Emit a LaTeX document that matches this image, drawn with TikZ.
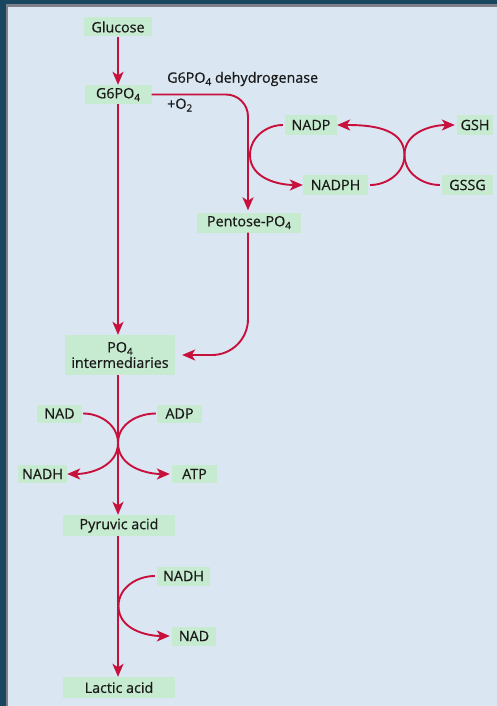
\documentclass[tikz,border=0pt]{standalone}
\usepackage{fontspec}
\setmainfont{Open Sans}[FakeBold=0.6]
\usetikzlibrary{arrows.meta}
\definecolor{frame}{HTML}{19465F}
\definecolor{frameline}{HTML}{7D8088}
\definecolor{panel}{HTML}{DAE6F2}
\definecolor{boxgreen}{HTML}{C6EBD0}
\definecolor{arrowred}{HTML}{C8103C}
\definecolor{txt}{HTML}{1A1A1A}
\newcommand{\subsc}[1]{\raisebox{-0.35ex}{\fontsize{10}{10}\selectfont #1}}
\tikzset{
  x=1pt, y=1pt,
  met/.style={fill=boxgreen, text=txt, font=\fontsize{14.3}{15.5}\selectfont, inner sep=0pt, minimum height=19pt, align=center},
  lbl/.style={text=txt, font=\fontsize{14.3}{15.5}\selectfont, inner sep=0pt, anchor=west},
  flow/.style={draw=arrowred, line width=1.9pt, -{Stealth[length=13pt,width=11pt,inset=3.5pt]}},
}
\begin{document}
\begin{tikzpicture}
\useasboundingbox (0,0) rectangle (497,-706);
\fill[frame] (0,0) rectangle (497,-706);
\fill[frameline] (6,-4.5) rectangle (497,-706);
\fill[panel] (8,-7) rectangle (497,-706);

% nodes
\node[met, minimum width=68pt] (glu) at (118,-27) {Glucose};
\node[met, minimum width=67pt] (g6p) at (118,-94.5) {G6PO\subsc{4}};
\node[lbl] (dh) at (167,-79) {G6PO\subsc{4} dehydrogenase};
\node[lbl] (o2) at (167,-105) {+O\subsc{2}};
\node[met, minimum width=52pt, minimum height=20pt] (nadp) at (311,-125) {NADP};
\node[met, minimum width=65pt, minimum height=20pt] (nadph) at (335.5,-185) {NADPH};
\node[met, minimum width=36pt, minimum height=20pt] (gsh) at (475,-125) {GSH};
\node[met, minimum width=51pt, minimum height=20pt] (gssg) at (467.5,-185) {GSSG};
\node[met, minimum width=104pt, minimum height=20pt] (pent) at (249,-222.5) {Pentose-PO\subsc{4}};
\node[met, minimum width=110pt, minimum height=40pt] (po4) at (120,-355) {PO\subsc{4}\\intermediaries};
\node[met, minimum width=45pt, minimum height=18pt] (nad1) at (59.5,-413.5) {NAD};
\node[met, minimum width=45pt, minimum height=18pt] (adp) at (179.5,-413.5) {ADP};
\node[met, minimum width=49pt, minimum height=18pt] (nadh1) at (42.5,-474) {NADH};
\node[met, minimum width=45pt, minimum height=18pt] (atp) at (194.5,-474) {ATP};
\node[met, minimum width=112pt, minimum height=21pt] (pyr) at (119,-525.5) {Pyruvic acid};
\node[met, minimum width=53pt, minimum height=19pt] (nadh2) at (183.5,-576) {NADH};
\node[met, minimum width=44pt, minimum height=19pt] (nad2) at (194,-636) {NAD};
\node[met, minimum width=112pt, minimum height=21pt] (lac) at (119,-687.5) {Lactic acid};

\coordinate (xg) at (118,0);
\coordinate (xp) at (248,0);
\coordinate (c1) at (250,-155);
\coordinate (c2) at (404.5,-155);
\coordinate (c3) at (118,-443);
\coordinate (c4) at (118.5,-606);

% main trunk
\draw[flow] (glu.south -| xg) -- (g6p.north -| xg);
\draw[flow] (g6p.south -| xg) -- (po4.north -| xg);
\draw[flow] (po4.south -| xg) -- (pyr.north -| xg);
\draw[flow] (pyr.south -| xg) -- (lac.north -| xg);

% pentose branch
\draw[flow, rounded corners=22pt, shorten >=2pt] (g6p.east) -| (pent.north -| xp);
\draw[flow, rounded corners=36pt, shorten >=7pt] (pent.south -| xp) |- (po4.east);

% NADP/NADPH loop
\draw[flow, shorten <=2pt] (nadp.west) to[out=180,in=90] (c1) to[out=-90,in=180] (nadph.west);
\draw[flow, shorten <=2pt] (nadph.east) to[out=0,in=-90] (c2) to[out=90,in=0] (nadp.east);
\draw[flow, shorten <=2pt, shorten >=2pt] (gssg.west) to[out=180,in=-90] (c2) to[out=90,in=180] (gsh.west);

% NAD/ATP crossing
\draw[flow, shorten <=1pt] (nad1.east) to[out=0,in=90] (c3) to[out=-90,in=0] (nadh1.east);
\draw[flow, shorten <=1pt, shorten >=2pt] (adp.west) to[out=180,in=90] (c3) to[out=-90,in=180] (atp.west);

% lactate loop
\draw[flow, shorten <=2pt, shorten >=2pt] (nadh2.west) to[out=180,in=90] (c4) to[out=-90,in=180] (nad2.west);
\end{tikzpicture}
\end{document}
